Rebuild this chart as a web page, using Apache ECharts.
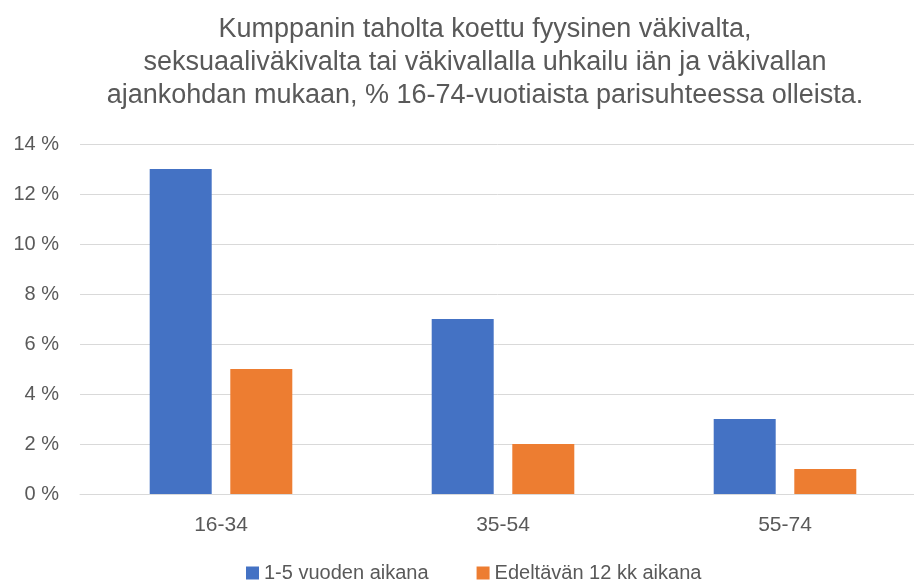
<!DOCTYPE html>
<html>
<head>
<meta charset="utf-8">
<script src="https://cdn.jsdelivr.net/npm/echarts@6/dist/echarts.min.js"></script>
<style>
  html, body { margin: 0; padding: 0; background: #fff; }
  #chart { width: 914px; height: 588px; }
</style>
</head>
<body>
<div id="chart"></div>
<script>
const categories = ["16-34", "35-54", "55-74"];
const seriesNames = ["1-5 vuoden aikana", "Edeltävän 12 kk aikana"];
const lastFiveYears = [13, 7, 3];
const lastTwelveMonths = [5, 2, 1];
const titleText =
  "Kumppanin taholta koettu fyysinen väkivalta,\n" +
  "seksuaaliväkivalta tai väkivallalla uhkailu iän ja väkivallan\n" +
  "ajankohdan mukaan, % 16-74-vuotiaista parisuhteessa olleista.";

const font = "'Liberation Sans', Arial, sans-serif";
const textColor = "#595959";

const chart = echarts.init(document.getElementById("chart"));

const option = {
  animation: false,
  textStyle: { fontFamily: font },
  title: {
    text: titleText,
    left: 480,
    textAlign: "center",
    top: 8,
    textStyle: {
      fontFamily: font,
      fontSize: 27,
      fontWeight: "normal",
      color: textColor,
      lineHeight: 33,
    },
  },
  legend: {
    bottom: 0,
    left: 241,
    itemWidth: 13,
    itemHeight: 13,
    itemGap: 48,
    icon: "rect",
    textStyle: { fontFamily: font, fontSize: 20, color: textColor },
    data: seriesNames,
  },
  grid: {
    left: 80,
    top: 144,
    right: -12,
    bottom: 94,
    outerBoundsMode: "none",
  },
  xAxis: {
    type: "category",
    data: categories,
    axisLine: { lineStyle: { color: "#d9d9d9" } },
    axisTick: { show: false },
    axisLabel: {
      fontFamily: font,
      fontSize: 21,
      color: textColor,
      margin: 21,
    },
  },
  yAxis: {
    type: "value",
    min: 0,
    max: 14,
    interval: 2,
    axisLine: { show: false },
    axisTick: { show: false },
    splitLine: { lineStyle: { color: "#d9d9d9" } },
    axisLabel: {
      fontFamily: font,
      fontSize: 20,
      color: textColor,
      margin: 21,
      formatter: "{value} %",
    },
  },
  series: [
    {
      name: seriesNames[0],
      type: "bar",
      data: lastFiveYears,
      barWidth: 62,
      barGap: "30%",
      itemStyle: { color: "#4472c4" },
    },
    {
      name: seriesNames[1],
      type: "bar",
      data: lastTwelveMonths,
      barWidth: 62,
      barGap: "30%",
      itemStyle: { color: "#ed7d31" },
    },
  ],
};

chart.setOption(option);
</script>
</body>
</html>
